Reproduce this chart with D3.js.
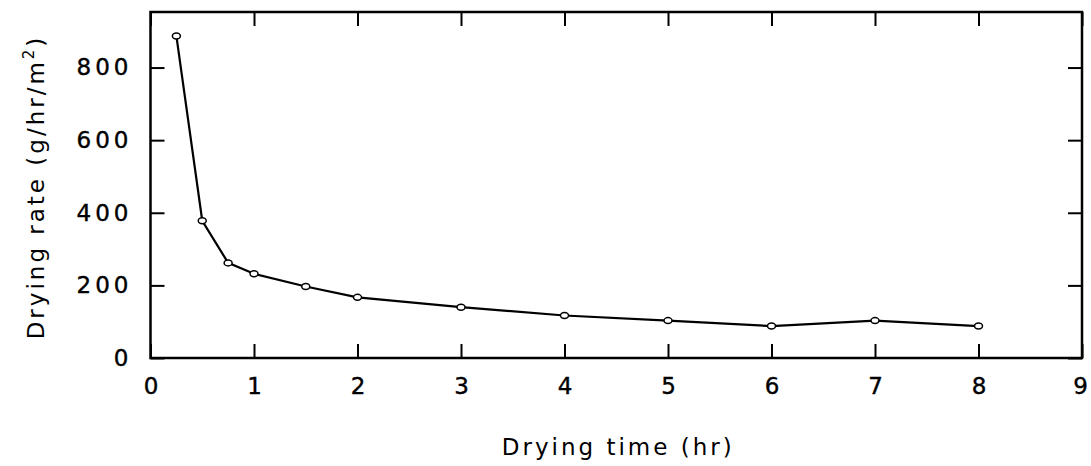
<!DOCTYPE html>
<html>
<head>
  <meta charset="utf-8">
  <title>Drying rate</title>
  <script src="https://cdn.jsdelivr.net/npm/d3@7"></script>
  <style>
    body { margin: 0; background: #fff; }
    text { font-family: "DejaVu Sans", sans-serif; fill: #000; }
  </style>
</head>
<body>
  <svg width="1091" height="466"></svg>
  <script>
    // data
    var times = [0.25, 0.5, 0.75, 1, 1.5, 2, 3, 4, 5, 6, 7, 8];
    var rates = [887, 378, 262, 232, 197, 167, 140, 117, 103, 88, 103, 88];
    var xTicks = [0, 1, 2, 3, 4, 5, 6, 7, 8, 9];
    var yTicks = [0, 200, 400, 600, 800];

    var marge = {top: 12, right: 9, bottom: 108, left: 150.5};
    var svg = d3.select("svg");
    var W = 1091 - marge.left - marge.right;
    var H = 466 - marge.top - marge.bottom;

    var x = d3.scaleLinear().domain([0, 9]).range([0, W]);
    var y = d3.scaleLinear().domain([0, 953]).range([H, 0]);

    var g = svg.append("g").attr("transform", "translate(" + marge.left + "," + marge.top + ")");

    // frame
    g.append("rect").attr("width", W).attr("height", H)
      .attr("fill", "none").attr("stroke", "#000").attr("stroke-width", 2.5);

    // inward ticks all round
    var tk = 14;
    var xb = g.append("g").attr("transform", "translate(0," + H + ")")
      .call(d3.axisBottom(x).tickValues(xTicks).tickSize(-tk).tickPadding(tk + 6).tickFormat(d3.format("d")));
    xb.selectAll(".tick text").attr("dx", function (d) { return d === 9 ? -2 : 2; });
    g.append("g")
      .call(d3.axisTop(x).tickValues(xTicks).tickSize(-tk).tickFormat(""));
    g.append("g")
      .call(d3.axisLeft(y).tickValues(yTicks).tickSize(-tk).tickPadding(tk + 4).tickFormat(d3.format("d")));
    g.append("g").attr("transform", "translate(" + W + ",0)")
      .call(d3.axisRight(y).tickValues(yTicks).tickSize(-tk).tickFormat(""));

    g.selectAll(".domain").remove();
    g.selectAll(".tick line").attr("stroke", "#000").attr("stroke-width", 2);
    g.selectAll(".tick text").style("font-size", "23px").style("letter-spacing", "4px")
      .attr("stroke", "#000").attr("stroke-width", 0.4);
    xb.selectAll(".tick text").filter(function (d) { return d === 9; }).style("letter-spacing", "0px");

    var pts = times.map(function (t, i) { return [t, rates[i]]; });

    g.append("path")
      .datum(pts)
      .attr("fill", "none").attr("stroke", "#000").attr("stroke-width", 2.2)
      .attr("d", d3.line().x(function (d) { return x(d[0]); }).y(function (d) { return y(d[1]); }));

    g.selectAll(".pt").data(pts).enter().append("ellipse")
      .attr("class", "pt")
      .attr("cx", function (d) { return x(d[0]); })
      .attr("cy", function (d) { return y(d[1]); })
      .attr("rx", 4).attr("ry", 3)
      .attr("fill", "#fff").attr("stroke", "#000").attr("stroke-width", 1.5);

    // axis titles
    svg.append("text")
      .attr("x", marge.left + W / 2 + 2).attr("y", 455)
      .attr("text-anchor", "middle").style("font-size", "23px").style("letter-spacing", "3px")
      .text("Drying time (hr)");

    var yt = svg.append("text")
      .attr("transform", "translate(44," + (marge.top + H / 2 + 2) + ") rotate(-90)")
      .attr("text-anchor", "middle").style("font-size", "23px").style("letter-spacing", "3px");
    yt.append("tspan").text("Drying rate (g/hr/m");
    yt.append("tspan").attr("dy", -10).style("font-size", "15px").text("2");
    yt.append("tspan").attr("dy", 10).text(")");
  </script>
</body>
</html>
